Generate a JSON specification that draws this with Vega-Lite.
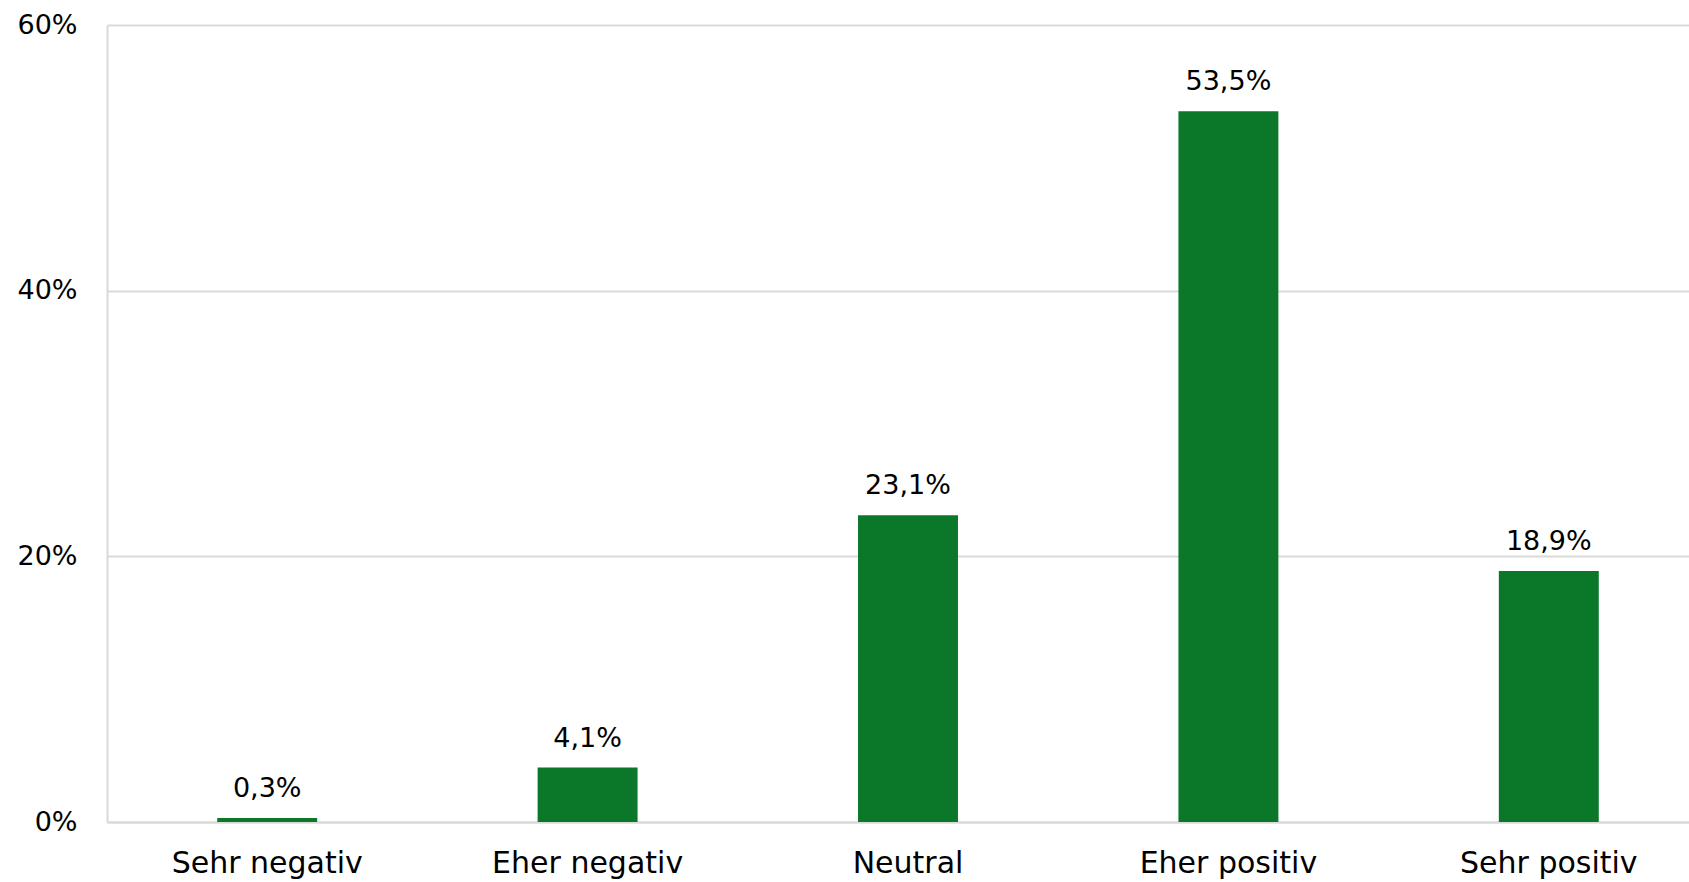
{
  "$schema": "https://vega.github.io/schema/vega-lite/v6.json",
  "width": 1582,
  "height": 797,
  "autosize": {"type": "none"},
  "padding": {"left": 107, "top": 25, "right": 0, "bottom": 60},
  "background": "#ffffff",
  "config": {
    "view": {"stroke": null},
    "locale": {"number": {"decimal": ",", "thousands": ".", "grouping": [3], "currency": ["", " €"], "percent": "%"}},
    "font": "DejaVu Sans"
  },
  "data": {
    "values": [
      {"kategorie": "Sehr negativ", "anteil": 0.003},
      {"kategorie": "Eher negativ", "anteil": 0.041},
      {"kategorie": "Neutral", "anteil": 0.231},
      {"kategorie": "Eher positiv", "anteil": 0.535},
      {"kategorie": "Sehr positiv", "anteil": 0.189}
    ]
  },
  "encoding": {
    "x": {
      "field": "kategorie",
      "type": "nominal",
      "sort": null,
      "scale": {"range": [0, 1602], "paddingInner": 0.688, "paddingOuter": 0.344},
      "axis": {
        "title": null,
        "labelAngle": 0,
        "labelFontSize": 30,
        "labelColor": "#000000",
        "labelPadding": 26,
        "labelLimit": 0,
        "ticks": false,
        "domainColor": "#d9d9d9",
        "domainWidth": 2
      }
    },
    "y": {
      "field": "anteil",
      "type": "quantitative",
      "scale": {"domain": [0, 0.6], "nice": false},
      "axis": {
        "title": null,
        "format": ".0%",
        "values": [0, 0.2, 0.4, 0.6],
        "labelFontSize": 27,
        "labelColor": "#000000",
        "labelPadding": 30,
        "ticks": false,
        "domainColor": "#d9d9d9",
        "domainWidth": 2,
        "gridColor": "#d9d9d9",
        "gridWidth": 2
      }
    }
  },
  "layer": [
    {"mark": {"type": "bar", "color": "#0b7829"}},
    {
      "mark": {"type": "text", "baseline": "bottom", "dy": -15, "fontSize": 27, "color": "#000000"},
      "encoding": {"text": {"field": "anteil", "type": "quantitative", "format": ".1%"}}
    }
  ]
}
